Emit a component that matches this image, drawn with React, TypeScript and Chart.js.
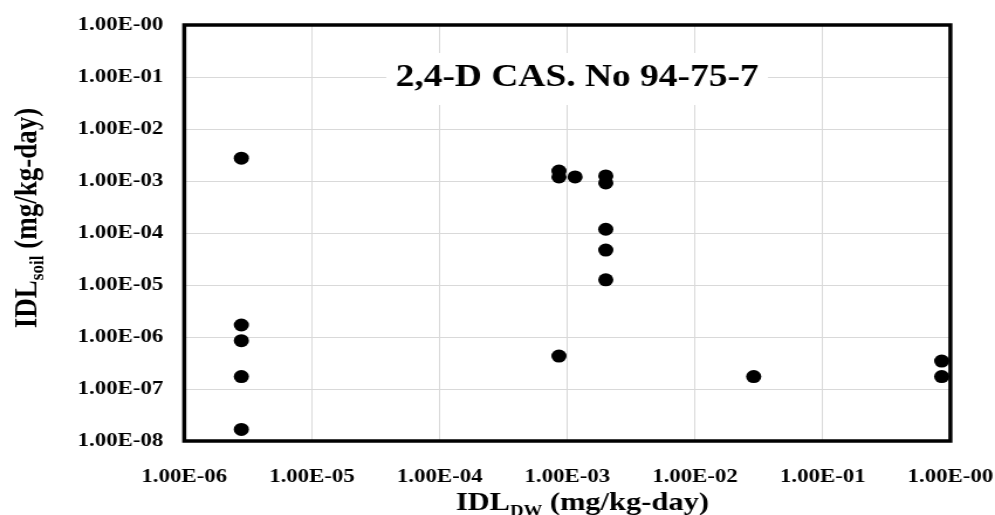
import React, { useEffect, useRef } from "react";
import { Chart, registerables } from "chart.js";

Chart.register(...registerables);

const chartTitle = "2,4-D CAS. No 94-75-7";
const xTitleMain = "IDL";
const xTitleSub = "DW";
const yTitleMain = "IDL";
const yTitleSub = "soil";
const titleUnits = " (mg/kg-day)";

const xTickValues = [1e-6, 1e-5, 1e-4, 1e-3, 1e-2, 1e-1, 1];
const xTickLabels = ["1.00E-06", "1.00E-05", "1.00E-04", "1.00E-03", "1.00E-02", "1.00E-01", "1.00E-00"];
const yTickValues = [1e-8, 1e-7, 1e-6, 1e-5, 1e-4, 1e-3, 1e-2, 1e-1, 1];
const yTickLabels = ["1.00E-08", "1.00E-07", "1.00E-06", "1.00E-05", "1.00E-04", "1.00E-03", "1.00E-02", "1.00E-01", "1.00E-00"];

const xValues = [2.8e-6, 2.8e-6, 2.8e-6, 2.8e-6, 2.8e-6, 8.6e-4, 8.6e-4, 8.6e-4, 1.15e-3, 2.0e-3, 2.0e-3, 2.0e-3, 2.0e-3, 2.0e-3, 2.88e-2, 0.855, 0.855];
const yValues = [2.75e-3, 1.7e-6, 8.5e-7, 1.73e-7, 1.67e-8, 1.55e-3, 1.2e-3, 4.3e-7, 1.2e-3, 1.25e-3, 9.2e-4, 1.18e-4, 4.7e-5, 1.26e-5, 1.73e-7, 3.45e-7, 1.73e-7];

const FONT = "'Liberation Serif', 'Times New Roman', serif";
const INNER_W = 850;
const STRETCH = 995 / INNER_W;

function labelFor(values: number[], labels: string[], v: number) {
  const i = values.findIndex((t) => Math.abs(Math.log10(t) - Math.log10(v)) < 1e-6);
  return i >= 0 ? labels[i] : "";
}

const decorPlugin = {
  id: "decor",
  beforeDatasetsDraw(chart: any) {
    const { ctx, chartArea } = chart;
    const { left, right, top, bottom } = chartArea;
    ctx.save();
    ctx.strokeStyle = "#000";
    ctx.lineWidth = 3.5;
    ctx.strokeRect(left, top, right - left, bottom - top);
    const cx = 493;
    ctx.font = `bold 32px ${FONT}`;
    const w = ctx.measureText(chartTitle).width;
    ctx.fillStyle = "#fff";
    ctx.fillRect(cx - w / 2 - 8, 53, w + 16, 52);
    ctx.fillStyle = "#000";
    ctx.textAlign = "center";
    ctx.textBaseline = "middle";
    ctx.fillText(chartTitle, cx, 78);
    ctx.restore();
  },
  afterDraw(chart: any) {
    const { ctx } = chart;
    ctx.save();
    ctx.fillStyle = "#000";
    ctx.textBaseline = "alphabetic";
    ctx.textAlign = "left";
    const drawComposite = (main: string, sub: string, cx: number, baseY: number, size: number) => {
      const mainFont = `bold ${size}px ${FONT}`;
      const subFont = `bold ${Math.round(size * 0.62)}px ${FONT}`;
      ctx.font = mainFont;
      const w1 = ctx.measureText(main).width;
      const w3 = ctx.measureText(titleUnits).width;
      ctx.font = subFont;
      const w2 = ctx.measureText(sub).width;
      let x = cx - (w1 + w2 + w3) / 2;
      ctx.font = mainFont;
      ctx.fillText(main, x, baseY);
      x += w1;
      ctx.font = subFont;
      ctx.fillText(sub, x, baseY + 6);
      x += w2;
      ctx.font = mainFont;
      ctx.fillText(titleUnits, x, baseY);
    };
    drawComposite(xTitleMain, xTitleSub, 497.5, 510, 26);
    ctx.translate(31, 218);
    ctx.rotate(-Math.PI / 2);
    drawComposite(yTitleMain, yTitleSub, 0, 0, 27);
    ctx.restore();
  },
};

export default function App() {
  const ref = useRef<HTMLCanvasElement | null>(null);
  useEffect(() => {
    if (!ref.current) return;
    const points = xValues.map((x, i) => ({ x, y: yValues[i] }));
    const chart = new Chart(ref.current, {
      type: "scatter",
      data: {
        datasets: [
          {
            data: points,
            backgroundColor: "#000",
            borderColor: "#000",
            pointRadius: 6.5,
            pointBorderWidth: 0,
            clip: false as any,
          },
        ],
      },
      options: {
        animation: false,
        responsive: true,
        maintainAspectRatio: false,
        layout: { padding: { left: 0, right: 38.1, top: 25, bottom: 0 } },
        plugins: { legend: { display: false }, tooltip: { enabled: false } },
        scales: {
          x: {
            type: "logarithmic",
            min: 1e-6,
            max: 1,
            afterBuildTicks: (s: any) => {
              s.ticks = xTickValues.map((v) => ({ value: v }));
            },
            afterFit: (s: any) => {
              s.height = 74;
              s.paddingLeft = 0;
              s.paddingRight = 0;
            },
            grid: { color: "#d9d9d9", lineWidth: 1, drawTicks: false },
            border: { display: false },
            ticks: {
              color: "#000",
              padding: 24,
              maxRotation: 0,
              autoSkip: false,
              font: { family: FONT, size: 19.5, weight: "bold" },
              callback: (v: any) => labelFor(xTickValues, xTickLabels, Number(v)),
            },
          },
          y: {
            type: "logarithmic",
            min: 1e-8,
            max: 1,
            afterBuildTicks: (s: any) => {
              s.ticks = yTickValues.map((v) => ({ value: v }));
            },
            afterFit: (s: any) => {
              s.width = 157.4;
              s.paddingTop = 0;
              s.paddingBottom = 0;
            },
            grid: { color: "#d9d9d9", lineWidth: 1, drawTicks: false },
            border: { display: false },
            ticks: {
              color: "#000",
              padding: 18,
              autoSkip: false,
              font: { family: FONT, size: 19.5, weight: "bold" },
              callback: (v: any) => labelFor(yTickValues, yTickLabels, Number(v)),
            },
          },
        },
      } as any,
      plugins: [decorPlugin],
    });
    return () => chart.destroy();
  }, []);
  return (
    <div style={{ position: "fixed", left: 0, top: 0, width: 995, height: 515, background: "#fff", overflow: "hidden" }}>
      <div
        style={{
          position: "absolute",
          left: 0,
          top: 0,
          width: INNER_W,
          height: 515,
          transform: `scaleX(${STRETCH})`,
          transformOrigin: "0 0",
        }}
      >
        <canvas ref={ref} />
      </div>
    </div>
  );
}
